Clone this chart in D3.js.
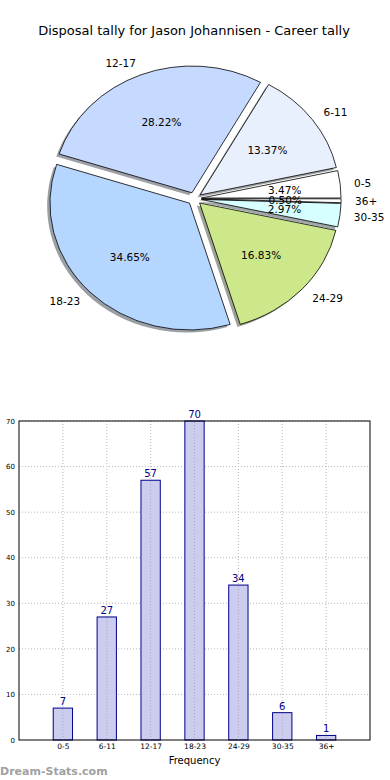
<!DOCTYPE html>
<html>
<head>
<meta charset="utf-8">
<script src="https://cdn.jsdelivr.net/npm/d3@7"></script>
<style>
  html, body { margin: 0; padding: 0; background: #ffffff; }
  svg { display: block; font-family: "DejaVu Sans", sans-serif; }
</style>
</head>
<body>
<svg id="chart" width="390" height="780"></svg>
<script>
const categories = ["0-5", "6-11", "12-17", "18-23", "24-29", "30-35", "36+"];
const values = [7, 27, 57, 70, 34, 6, 1];
const pieColors = ["#ffffff", "#e8f0fe", "#c6d9ff", "#b4d6ff", "#cde88a", "#d8ffff", "#ffffff"];
const yTicks = [0, 10, 20, 30, 40, 50, 60, 70];
const titleText = "Disposal tally for Jason Johannisen - Career tally";

const svg = d3.select("#chart");

// Title
svg.append("text")
  .attr("x", 194).attr("y", 35)
  .attr("text-anchor", "middle")
  .attr("font-size", 13)
  .attr("fill", "#000")
  .text(titleText);

// ---------- Pie (elliptical, exploded, shadowed) ----------
const cx = 194.5, cy = 198.7, rx = 139.6, ry = 126.8, explode = 0.05;
const total = d3.sum(values);
const pie = d3.pie().sort(null)
  .startAngle(Math.PI / 2)
  .endAngle(Math.PI / 2 - 2 * Math.PI);
const arcs = pie(values);
const arcGen = d3.arc().innerRadius(0).outerRadius(1);

function dirOf(d) {
  const m = (d.startAngle + d.endAngle) / 2;
  return [Math.sin(m), -Math.cos(m)];
}

const pieG = svg.append("g");
// shadows
arcs.forEach((d, i) => {
  const [ux, uy] = dirOf(d);
  const ox = explode * rx * ux, oy = explode * ry * uy;
  const c = d3.rgb(pieColors[i]);
  const sc = d3.rgb(c.r * 0.3, c.g * 0.3, c.b * 0.3);
  pieG.append("path")
    .attr("d", arcGen(d))
    .attr("transform", `translate(${cx + ox - 0.02 * rx},${cy + oy + 0.02 * ry}) scale(${rx},${ry})`)
    .attr("fill", sc.toString())
    .attr("fill-opacity", 0.5)
    .attr("stroke", "none");
});
// wedges
arcs.forEach((d, i) => {
  const [ux, uy] = dirOf(d);
  const ox = explode * rx * ux, oy = explode * ry * uy;
  pieG.append("path")
    .attr("d", arcGen(d))
    .attr("transform", `translate(${cx + ox},${cy + oy}) scale(${rx},${ry})`)
    .attr("fill", pieColors[i])
    .attr("stroke", "#000")
    .attr("stroke-width", 0.8)
    .attr("vector-effect", "non-scaling-stroke")
    .attr("stroke-linejoin", "round");
});
// labels
arcs.forEach((d, i) => {
  const [ux, uy] = dirOf(d);
  const bx = cx + explode * rx * ux, by = cy + explode * ry * uy;
  const lx = bx + 1.1 * rx * ux, ly = by + 1.1 * ry * uy;
  pieG.append("text")
    .attr("x", lx).attr("y", ly)
    .attr("text-anchor", lx > cx ? "start" : "end")
    .attr("dominant-baseline", "central")
    .attr("font-size", 10.5)
    .attr("fill", "#000")
    .text(categories[i]);
  const px = bx + 0.6 * rx * ux, py = by + 0.6 * ry * uy;
  pieG.append("text")
    .attr("x", px).attr("y", py)
    .attr("text-anchor", "middle")
    .attr("dominant-baseline", "central")
    .attr("font-size", 10.5)
    .attr("fill", "#000")
    .text((values[i] / total * 100).toFixed(2) + "%");
});

// ---------- Bar chart ----------
const pL = 19, pR = 370, pT = 421, pB = 740;
const x = d3.scaleLinear().domain([0, 8]).range([pL, pR]);
const y = d3.scaleLinear().domain([0, 70]).range([pB, pT]);
const barW = 0.44;
const barG = svg.append("g");

// grid
barG.selectAll("line.hg").data(yTicks.slice(1)).enter().append("line")
  .attr("x1", pL).attr("x2", pR)
  .attr("y1", d => y(d)).attr("y2", d => y(d))
  .attr("stroke", "#b8b8b8").attr("stroke-width", 1)
  .attr("stroke-dasharray", "1,2");
barG.selectAll("line.vg").data(d3.range(1, 8)).enter().append("line")
  .attr("x1", d => x(d)).attr("x2", d => x(d))
  .attr("y1", pT).attr("y2", pB)
  .attr("stroke", "#b8b8b8").attr("stroke-width", 1)
  .attr("stroke-dasharray", "1,2");

// bars
barG.selectAll("rect.bar").data(values).enter().append("rect")
  .attr("x", (d, i) => x(i + 1 - barW / 2))
  .attr("y", d => y(d))
  .attr("width", x(barW) - x(0))
  .attr("height", d => y(0) - y(d))
  .attr("fill", "#ccccee")
  .attr("stroke", "#00008b")
  .attr("stroke-width", 1);
// grid visible through bars
barG.selectAll("line.vg2").data(d3.range(1, 8)).enter().append("line")
  .attr("x1", d => x(d)).attr("x2", d => x(d))
  .attr("y1", d => y(values[d - 1]) + 1).attr("y2", pB)
  .attr("stroke", "#a8a8c0").attr("stroke-width", 1)
  .attr("stroke-dasharray", "1,2");

// value labels
barG.selectAll("text.val").data(values).enter().append("text")
  .attr("x", (d, i) => x(i + 1))
  .attr("y", d => y(d) - 3)
  .attr("text-anchor", "middle")
  .attr("font-size", 10)
  .attr("fill", "#00008b")
  .text(d => d);

// frame
barG.append("rect")
  .attr("x", pL).attr("y", pT)
  .attr("width", pR - pL).attr("height", pB - pT)
  .attr("fill", "none").attr("stroke", "#000").attr("stroke-width", 1);

// y ticks
const yAxis = d3.axisLeft(y).tickValues(yTicks).tickSize(0).tickPadding(4);
const yAx = barG.append("g").attr("transform", `translate(${pL},0)`).call(yAxis);
yAx.select(".domain").remove();
yAx.selectAll("text").attr("font-size", 7).attr("fill", "#000").attr("font-family", "DejaVu Sans, sans-serif");

// x ticks
const xAxis = d3.axisBottom(x).tickValues(d3.range(1, 8)).tickSize(0).tickPadding(4)
  .tickFormat(d => categories[d - 1]);
const xAx = barG.append("g").attr("transform", `translate(0,${pB})`).call(xAxis);
xAx.select(".domain").remove();
xAx.selectAll("text").attr("font-size", 7.5).attr("fill", "#000").attr("font-family", "DejaVu Sans, sans-serif");

// x label
svg.append("text")
  .attr("x", (pL + pR) / 2).attr("y", 764)
  .attr("text-anchor", "middle")
  .attr("font-size", 10)
  .attr("fill", "#000")
  .text("Frequency");

// watermark
svg.append("text")
  .attr("x", 0).attr("y", 775)
  .attr("font-size", 11)
  .attr("font-weight", "bold")
  .attr("fill", "#a0a0a0")
  .text("Dream-Stats.com");
</script>
</body>
</html>
